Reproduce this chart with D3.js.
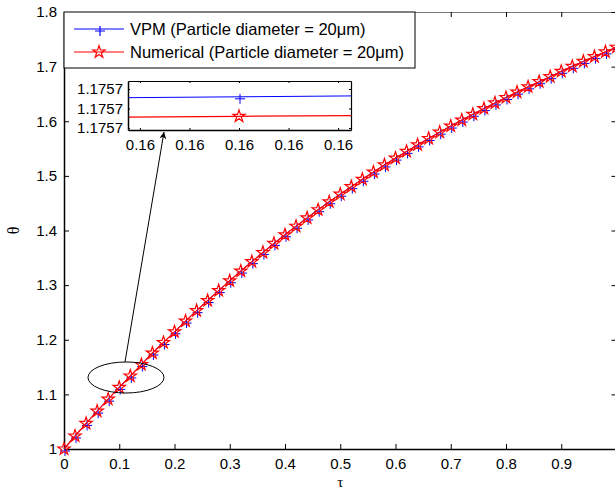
<!DOCTYPE html>
<html>
<head>
<meta charset="utf-8">
<script src="https://cdn.jsdelivr.net/npm/d3@7"></script>
<style>
  body { margin: 0; background: #fff; }
  svg { display: block; font-family: "Liberation Sans", Arial, sans-serif; }
</style>
</head>
<body>
<svg id="chart" width="615" height="493"></svg>
<script>
// values
const tau = [0, 0.02, 0.04, 0.06, 0.08, 0.10, 0.12, 0.14, 0.16, 0.18,
  0.20, 0.22, 0.24, 0.26, 0.28, 0.30, 0.32, 0.34, 0.36, 0.38,
  0.40, 0.42, 0.44, 0.46, 0.48, 0.50, 0.52, 0.54, 0.56, 0.58,
  0.60, 0.62, 0.64, 0.66, 0.68, 0.70, 0.72, 0.74, 0.76, 0.78,
  0.80, 0.82, 0.84, 0.86, 0.88, 0.90, 0.92, 0.94, 0.96, 0.98, 1.00];

const thetaVPM = [1.0000, 1.0238, 1.0468, 1.0693, 1.0912, 1.1127, 1.1337, 1.1545, 1.1757, 1.1950,
  1.2145, 1.2342, 1.2533, 1.2718, 1.2900, 1.3080, 1.3258, 1.3430, 1.3598, 1.3763,
  1.3922, 1.4078, 1.4230, 1.4380, 1.4525, 1.4665, 1.4803, 1.4938, 1.5070, 1.5200,
  1.5325, 1.5448, 1.5568, 1.5685, 1.5800, 1.5912, 1.6022, 1.6128, 1.6232, 1.6335,
  1.6435, 1.6533, 1.6630, 1.6724, 1.6816, 1.6915, 1.7005, 1.7095, 1.7183, 1.7270, 1.7355];

const thetaNum = [1.0000, 1.0238, 1.0468, 1.0693, 1.0912, 1.1127, 1.1337, 1.1545, 1.1757, 1.1950,
  1.2145, 1.2342, 1.2533, 1.2718, 1.2900, 1.3080, 1.3258, 1.3430, 1.3598, 1.3763,
  1.3922, 1.4078, 1.4230, 1.4380, 1.4525, 1.4665, 1.4803, 1.4938, 1.5070, 1.5200,
  1.5325, 1.5448, 1.5568, 1.5685, 1.5800, 1.5912, 1.6022, 1.6128, 1.6232, 1.6335,
  1.6435, 1.6533, 1.6630, 1.6724, 1.6816, 1.6915, 1.7005, 1.7095, 1.7183, 1.7270, 1.7355];

const xTicks = [0, 0.1, 0.2, 0.3, 0.4, 0.5, 0.6, 0.7, 0.8, 0.9];
const yTicks = [1, 1.1, 1.2, 1.3, 1.4, 1.5, 1.6, 1.7, 1.8];

// zoomed-in view around tau = 0.16
const insetTau = [0.15998, 0.16, 0.16002];
const insetVPM = [1.1756976, 1.1756980, 1.1756984];
const insetNum = [1.1756926, 1.1756930, 1.1756933];
const insetXTicks = [0.15999, 0.159995, 0.16, 0.160005, 0.16001];
const insetYTicks = [1.17569, 1.175695, 1.1757];

const legendLabels = ["VPM (Particle diameter = 20\u03bcm)", "Numerical (Particle diameter = 20\u03bcm)"];

const BLUE = "#0000ff", RED = "#ff0000";

const svg = d3.select("#chart");
const plotLeft = 64, plotTop = 12, plotBottom = 449, plotRight = 616.5;

const x = d3.scaleLinear().domain([0, 1]).range([plotLeft, plotRight]);
const y = d3.scaleLinear().domain([1, 1.8]).range([plotBottom, plotTop]);

const plusPath = "M-5,2H5M0,-3V7";
const starPath = d3.symbol().type(d3.symbolStar).size(46)();

// axes (MATLAB style inward ticks)
function styleAxis(g, width) {
    g.select(".domain").attr("stroke", "#000").attr("stroke-width", width);
    g.selectAll(".tick line").attr("stroke", "#000").attr("stroke-width", 1);
    g.selectAll(".tick text").attr("fill", "#000").attr("font-size", "15px")
        .attr("font-family", "'Liberation Sans', Arial, sans-serif");
}

svg.append("g")
    .attr("transform", `translate(0,${plotTop})`)
    .call(d3.axisTop(x).tickValues(xTicks).tickSizeInner(-5).tickSizeOuter(0).tickFormat(""))
    .call(g => styleAxis(g, 0.8))
    .call(g => g.select(".domain").attr("stroke", "#555"));

svg.append("g")
    .attr("transform", `translate(${plotRight},0)`)
    .call(d3.axisRight(y).tickValues(yTicks).tickSizeInner(-5).tickSizeOuter(0).tickFormat(""))
    .call(g => styleAxis(g, 1));

svg.append("g")
    .attr("transform", `translate(0,${plotBottom})`)
    .call(d3.axisBottom(x).tickValues(xTicks).tickSizeInner(-5).tickSizeOuter(0).tickPadding(9)
        .tickFormat(d => d === 0 ? "0" : d3.format(".1f")(d)))
    .call(g => styleAxis(g, 1.5));

svg.append("g")
    .attr("transform", `translate(${plotLeft},0)`)
    .call(d3.axisLeft(y).tickValues(yTicks).tickSizeInner(-5).tickSizeOuter(0).tickPadding(7)
        .tickFormat(d => d === 1 ? "1" : d3.format(".1f")(d)))
    .call(g => styleAxis(g, 1.5));

// axis titles
svg.append("text")
    .attr("x", x(0.5)).attr("y", 487)
    .attr("text-anchor", "middle")
    .attr("font-family", "'Liberation Serif', 'DejaVu Serif', serif")
    .attr("font-size", "15px")
    .text("\u03c4");

svg.append("text")
    .attr("transform", `translate(19,${y(1.4)}) rotate(-90)`)
    .attr("text-anchor", "middle")
    .attr("font-family", "'Liberation Serif', 'DejaVu Serif', serif")
    .attr("font-size", "16px")
    .text("\u03b8");

// series
const line = d3.line().x(d => x(d[0])).y(d => y(d[1]));
const vpmData = tau.map((t, i) => [t, thetaVPM[i]]);
const numData = tau.map((t, i) => [t, thetaNum[i]]);

svg.append("path").datum(vpmData)
    .attr("d", line).attr("fill", "none").attr("stroke", BLUE).attr("stroke-width", 1);

svg.selectAll(".vpm").data(vpmData).enter().append("path")
    .attr("class", "vpm")
    .attr("d", plusPath)
    .attr("transform", d => `translate(${x(d[0]) + 1},${y(d[1])})`)
    .attr("fill", "none").attr("stroke", BLUE).attr("stroke-width", 1);

svg.append("path").datum(numData)
    .attr("d", line).attr("fill", "none").attr("stroke", RED).attr("stroke-width", 1.2);

svg.selectAll(".num").data(numData).enter().append("path")
    .attr("class", "num")
    .attr("d", starPath)
    .attr("transform", d => `translate(${x(d[0])},${y(d[1])})`)
    .attr("fill", "none").attr("stroke", RED).attr("stroke-width", 1.2);

// ellipse around tau ~ 0.11 and arrow to inset
const ell = { cx: 0.1122, cy: 1.1309, rx: 0.0688, ry: 0.0284 };
svg.append("ellipse")
    .attr("cx", x(ell.cx)).attr("cy", y(ell.cy))
    .attr("rx", x(ell.rx) - x(0)).attr("ry", y(1) - y(1 + ell.ry))
    .attr("fill", "none").attr("stroke", "#000").attr("stroke-width", 1);

// inset
const ins = { left: 128, top: 81, width: 223, height: 49 };
const ix = d3.scaleLinear().domain([0.1599888, 0.1600113]).range([ins.left, ins.left + ins.width]);
const iy = d3.scaleLinear()
    .domain([1.17569 - 2 / 3.9e6, 1.17569 + 47 / 3.9e6])
    .range([ins.top + ins.height, ins.top]);

const defs = svg.append("defs");
defs.append("clipPath").attr("id", "insetClip")
    .append("rect").attr("x", ins.left).attr("y", ins.top)
    .attr("width", ins.width).attr("height", ins.height);

svg.append("rect")
    .attr("x", ins.left).attr("y", ins.top).attr("width", ins.width).attr("height", ins.height)
    .attr("fill", "#fff");

const iline = d3.line().x(d => ix(d[0])).y(d => iy(d[1]));
const insetG = svg.append("g").attr("clip-path", "url(#insetClip)");
insetG.append("path").datum(insetTau.map((t, i) => [t, insetVPM[i]]))
    .attr("d", iline).attr("fill", "none").attr("stroke", BLUE).attr("stroke-width", 1);
insetG.append("path").datum(insetTau.map((t, i) => [t, insetNum[i]]))
    .attr("d", iline).attr("fill", "none").attr("stroke", RED).attr("stroke-width", 1.2);
insetG.append("path")
    .attr("d", plusPath)
    .attr("transform", `translate(${ix(insetTau[1]) + 1},${iy(insetVPM[1])})`)
    .attr("fill", "none").attr("stroke", BLUE).attr("stroke-width", 1);
insetG.append("path")
    .attr("d", starPath)
    .attr("transform", `translate(${ix(insetTau[1])},${iy(insetNum[1])})`)
    .attr("fill", "none").attr("stroke", RED).attr("stroke-width", 1.2);

svg.append("g")
    .attr("transform", `translate(0,${ins.top})`)
    .call(d3.axisTop(ix).tickValues(insetXTicks).tickSizeInner(-2).tickSizeOuter(0).tickFormat(""))
    .call(g => styleAxis(g, 1.2));
svg.append("g")
    .attr("transform", `translate(${ins.left + ins.width},0)`)
    .call(d3.axisRight(iy).tickValues(insetYTicks).tickSizeInner(-2).tickSizeOuter(0).tickFormat(""))
    .call(g => styleAxis(g, 1.2));
svg.append("g")
    .attr("transform", `translate(0,${ins.top + ins.height})`)
    .call(d3.axisBottom(ix).tickValues(insetXTicks).tickSizeInner(-2).tickSizeOuter(0).tickPadding(9)
        .tickFormat(d3.format(".2f")))
    .call(g => styleAxis(g, 1.5));
svg.append("g")
    .attr("transform", `translate(${ins.left},0)`)
    .call(d3.axisLeft(iy).tickValues(insetYTicks).tickSizeInner(-2).tickSizeOuter(0).tickPadding(5)
        .tickFormat(d3.format(".4f")))
    .call(g => styleAxis(g, 1.5));

// arrow from ellipse to inset
const arrowStart = [x(0.1104), y(1.1593)];
const arrowEnd = [164, ins.top + ins.height + 2];
defs.append("marker")
    .attr("id", "arrowHead")
    .attr("viewBox", "0 0 10 10").attr("refX", 10).attr("refY", 5)
    .attr("markerWidth", 10).attr("markerHeight", 7)
    .attr("markerUnits", "userSpaceOnUse")
    .attr("orient", "auto")
    .append("path").attr("d", "M0,0L10,5L0,10L3,5Z").attr("fill", "#000");
svg.append("line")
    .attr("x1", arrowStart[0]).attr("y1", arrowStart[1])
    .attr("x2", arrowEnd[0]).attr("y2", arrowEnd[1])
    .attr("stroke", "#000").attr("stroke-width", 1)
    .attr("marker-end", "url(#arrowHead)");

// legend
const leg = svg.append("g");
leg.append("rect")
    .attr("x", plotLeft).attr("y", plotTop).attr("width", 351).attr("height", 56)
    .attr("fill", "#fff").attr("stroke", "#000").attr("stroke-width", 1);

const legendRows = [
    { label: legendLabels[0], color: BLUE, marker: plusPath, dx: 1, y: 29 },
    { label: legendLabels[1], color: RED, marker: starPath, dx: 0, y: 52 }
];
legendRows.forEach(r => {
    leg.append("line")
        .attr("x1", 74).attr("x2", 124).attr("y1", r.y).attr("y2", r.y)
        .attr("stroke", r.color).attr("stroke-width", 1);
    leg.append("path")
        .attr("d", r.marker)
        .attr("transform", `translate(${99 + r.dx},${r.y})`)
        .attr("fill", "none").attr("stroke", r.color).attr("stroke-width", 1.2);
    leg.append("text")
        .attr("x", 130).attr("y", r.y + 6)
        .attr("font-size", "16.5px")
        .text(r.label);
});
</script>
</body>
</html>
